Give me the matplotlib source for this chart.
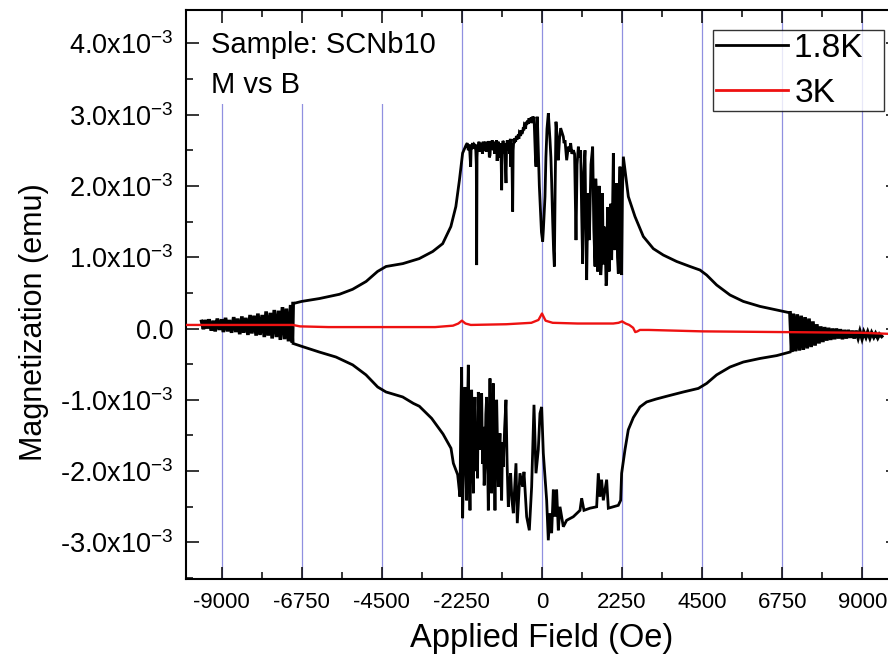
import matplotlib
matplotlib.use("Agg")
import matplotlib.pyplot as plt
from matplotlib.ticker import MultipleLocator, FuncFormatter
from matplotlib.patches import Rectangle
import numpy as np

plt.rcParams['font.family'] = ['Liberation Sans', 'DejaVu Sans']
plt.rcParams['mathtext.fontset'] = 'custom'
plt.rcParams['mathtext.rm'] = 'Liberation Sans'
plt.rcParams['mathtext.default'] = 'regular'

# ---------------- data (magnetization in units of 1e-3 emu) ----------------
# 1.8K: noisy band on the low-field (negative) end
band_left_x = [-9560, -9510, -9460, -9400, -9350, -9290, -9230, -9180, -9120, -9060,
               -9000, -8950, -8890, -8830, -8780, -8720, -8660, -8600, -8550, -8490,
               -8430, -8380, -8320, -8260, -8200, -8150, -8090, -8030, -7980, -7920,
               -7860, -7800, -7750, -7690, -7630, -7580, -7520, -7460, -7400, -7350,
               -7290, -7230, -7180, -7120, -7060, -7010, -6990]
band_left_m = [0.10, -0.01, 0.12, 0.00, 0.13, -0.03, 0.11, -0.04, 0.14, -0.02,
               0.13, -0.05, 0.15, -0.04, 0.12, -0.06, 0.16, -0.05, 0.14, -0.08,
               0.17, -0.06, 0.15, -0.09, 0.19, -0.07, 0.18, -0.10, 0.21, -0.09,
               0.19, -0.12, 0.24, -0.10, 0.22, -0.14, 0.26, -0.12, 0.25, -0.16,
               0.30, -0.15, 0.28, -0.18, 0.33, -0.20, 0.35]

# 1.8K: noisy band on the high-field end
band_right_x = [6966, 7010, 7060, 7120, 7170, 7230, 7280, 7340, 7390, 7450,
                7500, 7560, 7610, 7670, 7720, 7780, 7830, 7890, 7940, 8000,
                8050, 8110, 8160, 8220, 8270, 8330, 8380, 8440, 8490, 8550,
                8600, 8660, 8710, 8770, 8820, 8880, 8930, 8990, 9040, 9100,
                9150, 9210, 9260, 9320, 9370, 9430, 9480, 9540]
band_right_m = [0.22, -0.33, 0.21, -0.32, 0.20, -0.31, 0.18, -0.30, 0.16, -0.28,
                0.14, -0.26, 0.10, -0.24, 0.06, -0.21, 0.03, -0.19, 0.02, -0.17,
                0.01, -0.16, 0.00, -0.15, 0.00, -0.14, -0.01, -0.15, -0.02, -0.14,
                -0.02, -0.13, -0.03, -0.14, -0.03, -0.13, -0.04, -0.14, -0.05, -0.12,
                -0.05, -0.13, -0.06, -0.12, -0.07, -0.13, -0.08, -0.11]

# 1.8K: upper branch
upper_x = [-6990, -6750, -6255, -5690, -5320, -4940, -4620, -4380, -3910, -3450,
           -3070, -2790, -2560, -2420, -2320, -2230, -2135,
           -2100, -2070, -2040, -2004, -1990, -1975, -1950, -1920, -1900, -1882,
           -1860, -1845, -1835, -1825, -1810, -1788, -1770, -1750, -1730, -1710,
           -1695, -1675, -1655, -1635, -1615, -1601, -1585, -1570, -1550, -1535,
           -1515, -1495, -1480, -1460, -1440, -1420, -1400, -1386, -1370, -1350,
           -1330, -1310, -1292, -1275, -1260, -1245, -1226, -1205, -1185, -1160,
           -1145, -1133, -1120, -1100, -1086, -1070, -1050, -1030, -1011, -995,
           -975, -960, -945, -925, -905, -890, -880, -860, -845, -835,
           -824, -810, -790, -775, -758, -740, -720, -700, -683, -665,
           -650, -635, -618, -600, -585, -565, -543, -525, -510, -495,
           -478, -460, -445, -430, -412, -395, -380, -365, -350, -337,
           -320, -305, -290, -275, -260, -245, -224, -200, -185, -168,
           -150, -131, -110, -90, -75, -56, -35, -15, 19, 40,
           60, 84, 110, 140, 178, 200, 225, 250, 272, 300,
           325, 347, 370, 393, 420, 440, 459, 490, 524, 560,
           599, 620, 646, 670, 693, 715, 740, 770, 805, 840,
           880, 915, 955, 985, 1021, 1050, 1086, 1115, 1142, 1175,
           1208, 1230, 1255, 1290, 1330, 1375, 1423, 1455, 1489, 1510,
           1536, 1560, 1583, 1605, 1629, 1650, 1676, 1700, 1720, 1742,
           1780, 1800, 1817, 1840, 1863, 1885, 1910, 1935, 1957, 1980,
           2004, 2025, 2051, 2075, 2098, 2120, 2144, 2165, 2191, 2215,
           2238, 2260, 2285,
           2425, 2612, 2846, 3127, 3408, 3783, 4157, 4438, 4625, 4906,
           5281, 5655, 6124, 6592, 6966]
upper_m = [0.35, 0.38, 0.42, 0.48, 0.55, 0.66, 0.80, 0.87, 0.91, 0.98,
           1.08, 1.19, 1.43, 1.71, 2.08, 2.46, 2.57,
           2.60, 2.50, 2.58, 2.27, 2.56, 2.55, 2.60, 2.52, 2.58, 2.57,
           2.50, 2.30, 0.89, 2.40, 2.58, 2.55, 2.62, 2.48, 2.60, 2.55,
           2.60, 2.45, 2.62, 2.52, 2.60, 2.50, 2.62, 2.48, 2.60, 2.57,
           2.50, 2.63, 2.40, 2.43, 2.62, 2.55, 2.64, 2.60, 2.50, 2.62,
           2.45, 2.60, 2.53, 2.64, 2.35, 2.60, 2.62, 2.55, 2.40, 2.60,
           2.30, 1.94, 2.50, 2.63, 2.62, 2.45, 2.60, 2.30, 2.04, 2.55,
           2.64, 2.50, 2.64, 2.60, 2.45, 2.66, 2.27, 2.60, 2.40, 2.00,
           1.64, 2.50, 2.66, 2.60, 2.67, 2.62, 2.70, 2.65, 2.69, 2.72,
           2.66, 2.75, 2.74, 2.70, 2.78, 2.73, 2.76, 2.82, 2.78, 2.86,
           2.85, 2.80, 2.90, 2.86, 2.88, 2.92, 2.87, 2.95, 2.90, 2.95,
           2.90, 2.96, 2.88, 2.95, 2.97, 2.90, 2.97, 2.60, 2.40, 2.27,
           2.70, 2.97, 2.60, 2.20, 2.00, 1.80, 1.55, 1.35, 1.22, 1.40,
           1.60, 1.85, 2.40, 2.80, 3.02, 2.85, 2.64, 2.40, 2.04, 1.50,
           1.10, 0.87, 2.00, 2.90, 2.70, 2.50, 2.36, 2.65, 2.81, 2.75,
           2.69, 2.60, 2.64, 2.50, 2.36, 2.45, 2.55, 2.48, 2.60, 2.45,
           2.50, 2.45, 1.24, 2.30, 2.55, 2.40, 2.50, 1.60, 0.91, 2.20,
           2.50, 1.50, 0.68, 1.90, 1.24, 2.30, 2.55, 1.40, 0.87, 2.10,
           1.80, 0.80, 1.05, 2.00, 1.57, 0.75, 0.96, 1.90, 0.90, 1.43,
           1.10, 0.60, 0.68, 1.70, 1.33, 0.80, 1.43, 1.75, 0.96, 1.60,
           2.46, 1.30, 1.10, 1.70, 2.04, 1.00, 0.77, 1.80, 2.27, 1.20,
           0.75, 1.90, 2.41,
           1.85, 1.57, 1.29, 1.12, 1.03, 0.94, 0.87, 0.82, 0.75, 0.61,
           0.47, 0.38, 0.31, 0.26, 0.22]

# 1.8K: lower branch
lower_x = [-6990, -6750, -6255, -5787, -5318, -4944, -4616, -4382, -3913, -3614,
           -3446, -3100, -2780, -2556, -2490, -2369, -2304,
           -2280, -2257, -2243, -2229, -2195, -2163, -2140, -2117, -2095, -2070,
           -2045, -2023, -2000, -1976, -1950, -1929, -1905, -1883, -1860, -1836,
           -1812, -1789, -1765, -1742, -1718, -1695, -1670, -1648, -1625, -1602,
           -1578, -1555, -1530, -1508, -1485, -1461, -1438, -1415, -1390, -1368,
           -1345, -1321, -1298, -1274, -1250, -1227, -1205, -1180, -1157, -1134,
           -1110, -1087, -1050, -1012, -980, -946, -915, -881, -845, -806,
           -731, -694, -619, -544, -506, -431, -356, -291, -225, -169,
           -104, -57, -10, 37, 131, 177, 224, 271, 318, 365,
           411, 458, 505, 599, 692, 879, 1067, 1114, 1179, 1348,
           1535, 1582, 1629, 1675, 1722, 1816, 1863, 2003, 2143, 2209,
           2237, 2331, 2424, 2565, 2752, 2939, 3200, 3502, 3970, 4392,
           4625, 4906, 5281, 5655, 6124, 6592, 6966]
lower_m = [-0.21, -0.25, -0.33, -0.40, -0.51, -0.65, -0.82, -0.89, -0.96, -1.05,
           -1.09, -1.26, -1.48, -1.68, -1.89, -2.05, -2.36,
           -1.20, -0.54, -1.80, -2.66, -1.50, -0.82, -1.90, -2.41, -1.20, -0.51,
           -1.80, -2.55, -1.40, -0.86, -1.90, -2.31, -1.30, -0.96, -2.00, -1.47,
           -2.10, -0.89, -1.50, -1.70, -1.10, -0.91, -1.90, -1.38, -2.20, -1.94,
           -1.20, -0.96, -1.80, -2.55, -1.50, -0.70, -1.60, -2.31, -1.40, -0.77,
           -1.80, -2.55, -1.70, -1.00, -1.60, -2.22, -1.70, -1.47, -2.00, -2.41,
           -1.60, -1.94, -1.40, -1.00, -1.90, -2.50, -2.20, -2.03, -2.40, -2.59,
           -1.89, -2.73, -2.03, -2.22, -2.01, -2.64, -2.83, -2.22, -1.07, -2.03,
           -1.70, -1.19, -1.10, -1.75, -2.41, -2.97, -2.59, -2.87, -2.26, -2.64,
           -2.26, -2.83, -2.50, -2.78, -2.69, -2.64, -2.55, -2.38, -2.55, -2.52,
           -2.50, -2.03, -2.36, -2.12, -2.41, -2.12, -2.52, -2.50, -2.48, -2.41,
           -2.03, -1.70, -1.42, -1.25, -1.10, -1.03, -0.99, -0.95, -0.89, -0.84,
           -0.77, -0.65, -0.54, -0.47, -0.42, -0.38, -0.33]

# 3K
red_x = [-10000, -9500, -7000, -6800, -6000, -4500, -3000, -2500, -2350, -2250,
         -2150, -2000, -1000, -300, -100, 0, 100, 300, 1000, 2000,
         2150, 2250, 2350, 2450, 2560, 2620, 2680, 2750, 3000, 4500,
         6750, 9000, 10000]
red_m = [0.05, 0.05, 0.05, 0.03, 0.02, 0.02, 0.02, 0.04, 0.07, 0.11,
         0.07, 0.05, 0.06, 0.08, 0.12, 0.21, 0.11, 0.08, 0.07, 0.07,
         0.08, 0.10, 0.07, 0.05, 0.01, -0.05, -0.04, -0.02, -0.02, -0.04,
         -0.05, -0.06, -0.08]

x_major = [-9000, -6750, -4500, -2250, 0, 2250, 4500, 6750, 9000]
y_major = [-3.0, -2.0, -1.0, 0.0, 1.0, 2.0, 3.0, 4.0]

SCALE = 1e-3

# ---------------- figure ----------------
fig = plt.figure(figsize=(8.88, 6.68), dpi=100)
ax = fig.add_axes([186/888, 1-579/668, (898-186)/888, (579-10)/668])

for xv in x_major:
    ax.axvline(xv, color='#9090e0', lw=0.9, zorder=0)

# white label box hiding the grid behind the annotation
ax.add_patch(Rectangle((0.0, (579-104)/569), (445-186)/712, (104-13)/569,
                       transform=ax.transAxes, facecolor='white',
                       edgecolor='none', zorder=1))

black_kw = dict(color='black', lw=2.0, solid_joinstyle='miter', zorder=2)
band_kw = dict(black_kw, lw=2.6)
ax.plot(band_left_x, np.array(band_left_m)*SCALE, **band_kw)
ax.plot(band_right_x, np.array(band_right_m)*SCALE, **band_kw)
ax.plot(upper_x, np.array(upper_m)*SCALE, label='1.8K  ', **black_kw)
ax.plot(lower_x, np.array(lower_m)*SCALE, **black_kw)
ax.plot(red_x, np.array(red_m)*SCALE, color='#ee1111', lw=1.7, label='3K', zorder=3)

ax.set_xlim(-10000, 10000)
ax.set_ylim(-3.513e-3, 4.467e-3)
ax.set_xticks(x_major)
ax.xaxis.set_minor_locator(MultipleLocator(1125))
ax.set_yticks([v*SCALE for v in y_major])
ax.yaxis.set_minor_locator(MultipleLocator(0.5e-3))

def yfmt(v, pos):
    m = v/SCALE
    if abs(m) < 1e-9:
        return '0.0'
    return '%.1fx10$^{-3}$' % m

ax.yaxis.set_major_formatter(FuncFormatter(yfmt))
ax.xaxis.set_major_formatter(FuncFormatter(lambda v, p: '%d' % v))

ax.tick_params(which='both', direction='in', top=True, right=True, width=1.1)
ax.tick_params(which='major', length=9)
ax.tick_params(which='minor', length=5)
ax.tick_params(axis='x', which='major', labelsize=16, pad=9)
ax.tick_params(axis='y', which='major', labelsize=19.5, pad=9)
for s in ax.spines.values():
    s.set_linewidth(1.5)

ax.set_xlabel('Applied Field (Oe)', fontsize=23.5)
ax.xaxis.set_label_coords(0.5, -0.078)
ax.set_ylabel('Magnetization (emu)', fontsize=22)
ax.yaxis.set_label_coords(-0.193, 0.452)

ax.text(211/888, 1-45/668, 'Sample: SCNb10', transform=fig.transFigure,
        fontsize=21, va='center', ha='left', zorder=4)
ax.text(211/888, 1-85/668, 'M vs B', transform=fig.transFigure,
        fontsize=21, va='center', ha='left', zorder=4)

leg = ax.legend(loc='upper right', bbox_to_anchor=(884/888, 1-30/668),
                bbox_transform=fig.transFigure, borderaxespad=0,
                fontsize=24, frameon=True, fancybox=False, handlelength=2.15,
                handletextpad=0.2, borderpad=0.08, labelspacing=0.42)
leg.get_frame().set_edgecolor('black')
leg.get_frame().set_linewidth(1.0)
for h in leg.get_lines():
    h.set_linewidth(2.0)

fig.savefig('out.png', dpi=100)
